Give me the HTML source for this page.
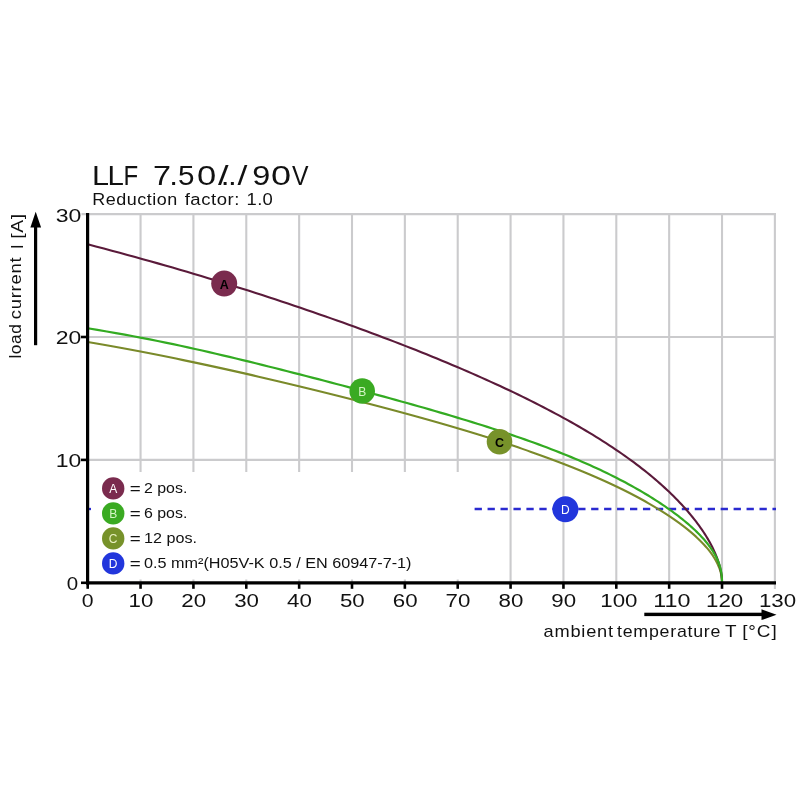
<!DOCTYPE html>
<html lang="en"><head><meta charset="utf-8"><title>LLF 7.50/../90V derating curve</title>
<style>
html,body{margin:0;padding:0;background:#fff;}
body{width:800px;height:800px;overflow:hidden;}
svg{display:block;}
text{font-family:"Liberation Sans",sans-serif;fill:#111;}
</style></head><body>
<svg width="800" height="800" viewBox="0 0 800 800">
<rect width="800" height="800" fill="#fff"/>
<g stroke="#cbcbcd" stroke-width="2.1" fill="none"><line x1="140.56" y1="213.5" x2="140.56" y2="582.0"/><line x1="193.42" y1="213.5" x2="193.42" y2="582.0"/><line x1="246.28" y1="213.5" x2="246.28" y2="582.0"/><line x1="299.14" y1="213.5" x2="299.14" y2="582.0"/><line x1="352.00" y1="213.5" x2="352.00" y2="582.0"/><line x1="404.86" y1="213.5" x2="404.86" y2="582.0"/><line x1="457.72" y1="213.5" x2="457.72" y2="582.0"/><line x1="510.58" y1="213.5" x2="510.58" y2="582.0"/><line x1="563.44" y1="213.5" x2="563.44" y2="582.0"/><line x1="616.30" y1="213.5" x2="616.30" y2="582.0"/><line x1="669.16" y1="213.5" x2="669.16" y2="582.0"/><line x1="722.02" y1="213.5" x2="722.02" y2="582.0"/><line x1="774.88" y1="213.5" x2="774.88" y2="589.0"/><line x1="88.0" y1="459.90" x2="776" y2="459.90"/><line x1="88.0" y1="337.00" x2="776" y2="337.00"/><line x1="81.5" y1="214.10" x2="776" y2="214.10"/></g>
<line x1="474.6" y1="509" x2="776" y2="509" stroke="#2a2ad0" stroke-width="2.3" stroke-dasharray="7.3 5.65"/><line x1="88" y1="509" x2="91" y2="509" stroke="#2a2ad0" stroke-width="2.3"/>
<rect x="92" y="472" width="380.5" height="107.5" fill="#fff"/>
<path d="M87.70 342.04 L96.47 343.54 L105.06 345.05 L113.48 346.55 L121.75 348.06 L129.86 349.56 L137.84 351.07 L145.69 352.57 L153.42 354.08 L161.03 355.58 L168.53 357.09 L175.93 358.59 L183.23 360.10 L190.44 361.60 L197.57 363.11 L204.62 364.61 L211.59 366.12 L218.50 367.62 L225.33 369.12 L232.10 370.63 L238.81 372.13 L245.46 373.64 L252.05 375.14 L258.59 376.65 L265.08 378.15 L271.53 379.66 L277.92 381.16 L284.27 382.67 L290.58 384.17 L296.84 385.68 L303.06 387.18 L309.24 388.69 L315.38 390.19 L321.48 391.70 L327.54 393.20 L333.56 394.71 L339.55 396.21 L345.49 397.71 L351.40 399.22 L357.26 400.72 L363.09 402.23 L368.88 403.73 L374.63 405.24 L380.34 406.74 L386.02 408.25 L391.65 409.75 L397.24 411.26 L402.79 412.76 L408.29 414.27 L413.76 415.77 L419.18 417.28 L424.56 418.78 L429.90 420.29 L435.20 421.79 L440.44 423.30 L445.65 424.80 L450.80 426.31 L455.92 427.81 L460.98 429.31 L466.00 430.82 L470.97 432.32 L475.89 433.83 L480.76 435.33 L485.59 436.84 L490.37 438.34 L495.09 439.85 L499.77 441.35 L504.39 442.86 L508.97 444.36 L513.49 445.87 L517.97 447.37 L522.39 448.88 L526.76 450.38 L531.08 451.89 L535.35 453.39 L539.57 454.90 L543.73 456.40 L547.85 457.91 L551.91 459.41 L555.92 460.91 L559.88 462.42 L563.79 463.92 L567.65 465.43 L571.45 466.93 L575.21 468.44 L578.91 469.94 L582.57 471.45 L586.17 472.95 L589.73 474.46 L593.23 475.96 L596.68 477.47 L600.09 478.97 L603.45 480.48 L606.76 481.98 L610.01 483.49 L613.23 484.99 L616.39 486.50 L619.51 488.00 L622.58 489.51 L625.60 491.01 L628.57 492.51 L631.50 494.02 L634.39 495.52 L637.23 497.03 L640.02 498.53 L642.77 500.04 L645.47 501.54 L648.13 503.05 L650.74 504.55 L653.31 506.06 L655.83 507.56 L658.31 509.07 L660.75 510.57 L663.14 512.08 L665.49 513.58 L667.80 515.09 L670.06 516.59 L672.28 518.10 L674.45 519.60 L676.58 521.10 L678.67 522.61 L680.71 524.11 L682.71 525.62 L684.66 527.12 L686.57 528.63 L688.43 530.13 L690.25 531.64 L692.02 533.14 L693.75 534.65 L695.43 536.15 L697.06 537.66 L698.65 539.16 L700.19 540.67 L701.68 542.17 L703.12 543.68 L704.52 545.18 L705.86 546.69 L707.15 548.19 L708.40 549.70 L709.59 551.20 L710.73 552.70 L711.82 554.21 L712.86 555.71 L713.84 557.22 L714.77 558.72 L715.64 560.23 L716.46 561.73 L717.23 563.24 L717.94 564.74 L718.59 566.25 L719.19 567.75 L719.73 569.26 L720.21 570.76 L720.64 572.27 L721.00 573.77 L721.32 575.28 L721.57 576.78 L721.77 578.29 L721.91 579.79 L721.99 581.30 L722.02 582.80" fill="none" stroke="#7a8a2a" stroke-width="2.1"/>
<path d="M87.70 244.33 L95.83 246.45 L103.87 248.56 L111.82 250.68 L119.69 252.80 L127.47 254.91 L135.18 257.03 L142.80 259.14 L150.35 261.26 L157.83 263.37 L165.24 265.49 L172.57 267.60 L179.83 269.72 L187.03 271.83 L194.17 273.95 L201.24 276.06 L208.24 278.18 L215.19 280.30 L222.08 282.41 L228.91 284.53 L235.68 286.64 L242.40 288.76 L249.06 290.87 L255.66 292.99 L262.22 295.10 L268.72 297.22 L275.17 299.33 L281.57 301.45 L287.92 303.57 L294.22 305.68 L300.48 307.80 L306.68 309.91 L312.84 312.03 L318.95 314.14 L325.01 316.26 L331.03 318.37 L337.00 320.49 L342.93 322.60 L348.82 324.72 L354.65 326.83 L360.45 328.95 L366.19 331.07 L371.90 333.18 L377.56 335.30 L383.18 337.41 L388.75 339.53 L394.28 341.64 L399.76 343.76 L405.20 345.87 L410.60 347.99 L415.95 350.10 L421.26 352.22 L426.53 354.34 L431.75 356.45 L436.92 358.57 L442.06 360.68 L447.14 362.80 L452.19 364.91 L457.19 367.03 L462.14 369.14 L467.05 371.26 L471.91 373.37 L476.73 375.49 L481.50 377.60 L486.23 379.72 L490.91 381.84 L495.54 383.95 L500.13 386.07 L504.67 388.18 L509.17 390.30 L513.62 392.41 L518.02 394.53 L522.37 396.64 L526.68 398.76 L530.94 400.87 L535.15 402.99 L539.32 405.11 L543.44 407.22 L547.51 409.34 L551.53 411.45 L555.50 413.57 L559.43 415.68 L563.30 417.80 L567.13 419.91 L570.91 422.03 L574.65 424.14 L578.33 426.26 L581.97 428.37 L585.55 430.49 L589.09 432.61 L592.58 434.72 L596.03 436.84 L599.42 438.95 L602.77 441.07 L606.07 443.18 L609.32 445.30 L612.52 447.41 L615.68 449.53 L618.79 451.64 L621.85 453.76 L624.86 455.88 L627.83 457.99 L630.75 460.11 L633.63 462.22 L636.45 464.34 L639.23 466.45 L641.97 468.57 L644.66 470.68 L647.30 472.80 L649.90 474.91 L652.45 477.03 L654.96 479.14 L657.42 481.26 L659.84 483.38 L662.22 485.49 L664.55 487.61 L666.83 489.72 L669.07 491.84 L671.27 493.95 L673.43 496.07 L675.54 498.18 L677.61 500.30 L679.63 502.41 L681.62 504.53 L683.56 506.65 L685.46 508.76 L687.31 510.88 L689.12 512.99 L690.89 515.11 L692.62 517.22 L694.30 519.34 L695.94 521.45 L697.54 523.57 L699.09 525.68 L700.60 527.80 L702.07 529.91 L703.49 532.03 L704.87 534.15 L706.20 536.26 L707.48 538.38 L708.72 540.49 L709.91 542.61 L711.06 544.72 L712.15 546.84 L713.20 548.95 L714.19 551.07 L715.13 553.18 L716.02 555.30 L716.86 557.42 L717.64 559.53 L718.36 561.65 L719.02 563.76 L719.63 565.88 L720.17 567.99 L720.64 570.11 L721.05 572.22 L721.39 574.34 L721.66 576.45 L721.86 578.57 L721.98 580.68 L722.02 582.80" fill="none" stroke="#5a1a3a" stroke-width="2.1"/>
<path d="M87.70 328.27 L97.41 329.86 L106.80 331.46 L115.90 333.05 L124.73 334.64 L133.30 336.23 L141.65 337.82 L149.78 339.41 L157.72 341.00 L165.48 342.59 L173.08 344.18 L180.53 345.77 L187.84 347.36 L195.02 348.95 L202.10 350.55 L209.07 352.14 L215.94 353.73 L222.73 355.32 L229.44 356.91 L236.09 358.50 L242.67 360.09 L249.19 361.68 L255.66 363.27 L262.08 364.86 L268.46 366.45 L274.80 368.04 L281.10 369.63 L287.37 371.23 L293.61 372.82 L299.81 374.41 L305.99 376.00 L312.14 377.59 L318.27 379.18 L324.37 380.77 L330.45 382.36 L336.50 383.95 L342.52 385.54 L348.52 387.13 L354.50 388.72 L360.45 390.31 L366.37 391.91 L372.27 393.50 L378.13 395.09 L383.97 396.68 L389.77 398.27 L395.54 399.86 L401.28 401.45 L406.98 403.04 L412.64 404.63 L418.27 406.22 L423.86 407.81 L429.41 409.40 L434.91 411.00 L440.37 412.59 L445.78 414.18 L451.15 415.77 L456.47 417.36 L461.74 418.95 L466.96 420.54 L472.13 422.13 L477.24 423.72 L482.31 425.31 L487.31 426.90 L492.26 428.49 L497.16 430.08 L501.99 431.68 L506.77 433.27 L511.49 434.86 L516.15 436.45 L520.75 438.04 L525.29 439.63 L529.77 441.22 L534.19 442.81 L538.55 444.40 L542.85 445.99 L547.08 447.58 L551.26 449.17 L555.37 450.76 L559.43 452.36 L563.42 453.95 L567.35 455.54 L571.22 457.13 L575.04 458.72 L578.79 460.31 L582.49 461.90 L586.13 463.49 L589.71 465.08 L593.23 466.67 L596.70 468.26 L600.12 469.85 L603.48 471.44 L606.78 473.04 L610.03 474.63 L613.23 476.22 L616.38 477.81 L619.48 479.40 L622.53 480.99 L625.53 482.58 L628.48 484.17 L631.38 485.76 L634.24 487.35 L637.05 488.94 L639.81 490.53 L642.53 492.13 L645.20 493.72 L647.83 495.31 L650.42 496.90 L652.96 498.49 L655.47 500.08 L657.93 501.67 L660.34 503.26 L662.72 504.85 L665.06 506.44 L667.35 508.03 L669.60 509.62 L671.82 511.21 L673.99 512.81 L676.12 514.40 L678.21 515.99 L680.26 517.58 L682.26 519.17 L684.22 520.76 L686.15 522.35 L688.02 523.94 L689.86 525.53 L691.65 527.12 L693.39 528.71 L695.10 530.30 L696.75 531.89 L698.36 533.49 L699.92 535.08 L701.43 536.67 L702.89 538.26 L704.30 539.85 L705.67 541.44 L706.98 543.03 L708.23 544.62 L709.44 546.21 L710.59 547.80 L711.69 549.39 L712.73 550.98 L713.71 552.58 L714.64 554.17 L715.51 555.76 L716.33 557.35 L717.08 558.94 L717.78 560.53 L718.42 562.12 L719.01 563.71 L719.54 565.30 L720.01 566.89 L720.43 568.48 L720.80 570.07 L721.11 571.66 L721.37 573.26 L721.58 574.85 L721.75 576.44 L721.87 578.03 L721.96 579.62 L722.01 581.21 L722.02 582.80" fill="none" stroke="#33ab22" stroke-width="2.2"/>
<g stroke="#000" stroke-width="3.2" fill="none"><line x1="87.6" y1="213" x2="87.6" y2="584.4"/><line x1="86" y1="582.8" x2="776" y2="582.8"/></g>
<g stroke="#000" stroke-width="2.6"><line x1="87.70" y1="582" x2="87.70" y2="588.8"/><line x1="140.56" y1="582" x2="140.56" y2="588.8"/><line x1="193.42" y1="582" x2="193.42" y2="588.8"/><line x1="246.28" y1="582" x2="246.28" y2="588.8"/><line x1="299.14" y1="582" x2="299.14" y2="588.8"/><line x1="352.00" y1="582" x2="352.00" y2="588.8"/><line x1="404.86" y1="582" x2="404.86" y2="588.8"/><line x1="457.72" y1="582" x2="457.72" y2="588.8"/><line x1="510.58" y1="582" x2="510.58" y2="588.8"/><line x1="563.44" y1="582" x2="563.44" y2="588.8"/><line x1="616.30" y1="582" x2="616.30" y2="588.8"/><line x1="669.16" y1="582" x2="669.16" y2="588.8"/><line x1="722.02" y1="582" x2="722.02" y2="588.8"/><line x1="81" y1="582.80" x2="87" y2="582.80"/><line x1="81" y1="459.90" x2="87" y2="459.90"/><line x1="81" y1="337.00" x2="87" y2="337.00"/></g>
<circle cx="224.2" cy="283.6" r="13.0" fill="#7a2b4e"/><text x="224.2" y="288.7" font-size="12.5" font-weight="bold" text-anchor="middle" style="fill:#000">A</text>
<circle cx="362.2" cy="391.0" r="12.8" fill="#3aaa22"/><text x="362.2" y="395.9" font-size="12" text-anchor="middle" style="fill:#d4f5c4">B</text>
<circle cx="499.5" cy="441.8" r="12.8" fill="#77922a"/><text x="499.5" y="446.9" font-size="12.5" font-weight="bold" text-anchor="middle" style="fill:#000">C</text>
<circle cx="565.4" cy="509.3" r="13.0" fill="#2236dc"/><text x="565.4" y="514.2" font-size="12" text-anchor="middle" style="fill:#fff">D</text>
<circle cx="113.2" cy="488.4" r="11.2" fill="#7a2b4e"/><text x="113.2" y="493.3" font-size="12" text-anchor="middle" style="fill:#fff">A</text>
<text font-size="14"><tspan x="129.7" y="493.7" textLength="11" lengthAdjust="spacingAndGlyphs">=</tspan> <tspan x="144.0" y="492.5" textLength="43.3" lengthAdjust="spacingAndGlyphs">2 pos.</tspan></text>
<circle cx="113.2" cy="513.4" r="11.2" fill="#3aaa22"/><text x="113.2" y="518.3" font-size="12" text-anchor="middle" style="fill:#d4f5c4">B</text>
<text font-size="14"><tspan x="129.7" y="518.7" textLength="11" lengthAdjust="spacingAndGlyphs">=</tspan> <tspan x="144.0" y="517.5" textLength="43.3" lengthAdjust="spacingAndGlyphs">6 pos.</tspan></text>
<circle cx="113.2" cy="538.4" r="11.2" fill="#77922a"/><text x="113.2" y="543.3" font-size="12" text-anchor="middle" style="fill:#e8f0c0">C</text>
<text font-size="14"><tspan x="129.7" y="543.7" textLength="11" lengthAdjust="spacingAndGlyphs">=</tspan> <tspan x="144.0" y="542.5" textLength="53" lengthAdjust="spacingAndGlyphs">12 pos.</tspan></text>
<circle cx="113.2" cy="563.4" r="11.2" fill="#2236dc"/><text x="113.2" y="568.3" font-size="12" text-anchor="middle" style="fill:#fff">D</text>
<text font-size="14"><tspan x="129.7" y="568.7" textLength="11" lengthAdjust="spacingAndGlyphs">=</tspan> <tspan x="144.0" y="567.5" textLength="267.5" lengthAdjust="spacingAndGlyphs">0.5 mm²(H05V-K 0.5 / EN 60947-7-1)</tspan></text>
<text y="184.8" font-size="27"><tspan x="91.99" textLength="17.03" lengthAdjust="spacingAndGlyphs">L</tspan><tspan x="107.58" textLength="16.40" lengthAdjust="spacingAndGlyphs">L</tspan><tspan x="123.53" textLength="14.68" lengthAdjust="spacingAndGlyphs">F</tspan> <tspan x="153.14" textLength="17.98" lengthAdjust="spacingAndGlyphs">7</tspan><tspan x="169.32" textLength="8.75" lengthAdjust="spacingAndGlyphs">.</tspan><tspan x="178.06" textLength="16.48" lengthAdjust="spacingAndGlyphs">5</tspan><tspan x="196.90" textLength="19.20" lengthAdjust="spacingAndGlyphs">0</tspan><tspan x="218.00" textLength="10.60" lengthAdjust="spacingAndGlyphs">/</tspan><tspan x="220.87" textLength="8.75" lengthAdjust="spacingAndGlyphs">.</tspan><tspan x="227.92" textLength="8.75" lengthAdjust="spacingAndGlyphs">.</tspan><tspan x="237.40" textLength="9.90" lengthAdjust="spacingAndGlyphs">/</tspan><tspan x="252.23" textLength="18.06" lengthAdjust="spacingAndGlyphs">9</tspan><tspan x="271.09" textLength="20.07" lengthAdjust="spacingAndGlyphs">0</tspan><tspan x="291.89" textLength="16.52" lengthAdjust="spacingAndGlyphs">V</tspan></text>
<text y="204.7" font-size="16.9"><tspan x="92.2" textLength="85.7" lengthAdjust="spacingAndGlyphs" style="letter-spacing:0.5px">Reduction</tspan> <tspan x="184.7" textLength="55.2" lengthAdjust="spacingAndGlyphs" style="letter-spacing:0.5px">factor:</tspan> <tspan x="246.6" textLength="26.6" lengthAdjust="spacingAndGlyphs" style="letter-spacing:0.3px">1.0</tspan></text>
<text x="81.8" y="606.8" font-size="17.6" textLength="11.8" lengthAdjust="spacingAndGlyphs">0</text>
<text x="128.5" y="606.8" font-size="17.6" textLength="24.8" lengthAdjust="spacingAndGlyphs">10</text>
<text x="181.3" y="606.8" font-size="17.6" textLength="24.8" lengthAdjust="spacingAndGlyphs">20</text>
<text x="234.2" y="606.8" font-size="17.6" textLength="24.8" lengthAdjust="spacingAndGlyphs">30</text>
<text x="287.0" y="606.8" font-size="17.6" textLength="24.8" lengthAdjust="spacingAndGlyphs">40</text>
<text x="339.9" y="606.8" font-size="17.6" textLength="24.8" lengthAdjust="spacingAndGlyphs">50</text>
<text x="392.8" y="606.8" font-size="17.6" textLength="24.8" lengthAdjust="spacingAndGlyphs">60</text>
<text x="445.6" y="606.8" font-size="17.6" textLength="24.8" lengthAdjust="spacingAndGlyphs">70</text>
<text x="498.5" y="606.8" font-size="17.6" textLength="24.8" lengthAdjust="spacingAndGlyphs">80</text>
<text x="551.3" y="606.8" font-size="17.6" textLength="24.8" lengthAdjust="spacingAndGlyphs">90</text>
<text x="600.3" y="606.8" font-size="17.6" textLength="37.2" lengthAdjust="spacingAndGlyphs">100</text>
<text x="653.2" y="606.8" font-size="17.6" textLength="37.2" lengthAdjust="spacingAndGlyphs">110</text>
<text x="706.0" y="606.8" font-size="17.6" textLength="37.2" lengthAdjust="spacingAndGlyphs">120</text>
<text x="758.9" y="606.8" font-size="17.6" textLength="37.2" lengthAdjust="spacingAndGlyphs">130</text>
<text x="66.8" y="590.1" font-size="18.6" textLength="11.4" lengthAdjust="spacingAndGlyphs">0</text>
<text x="55.8" y="467.2" font-size="18.6" textLength="25.6" lengthAdjust="spacingAndGlyphs">10</text>
<text x="55.8" y="344.4" font-size="18.6" textLength="25.6" lengthAdjust="spacingAndGlyphs">20</text>
<text x="55.8" y="221.8" font-size="18.6" textLength="25.6" lengthAdjust="spacingAndGlyphs">30</text>
<text y="637.3" font-size="16.6"><tspan x="543.6" textLength="70.2" lengthAdjust="spacingAndGlyphs" style="letter-spacing:0.7px">ambient</tspan> <tspan x="617.0" textLength="104.2" lengthAdjust="spacingAndGlyphs" style="letter-spacing:0.7px">temperature</tspan> <tspan x="724.9" textLength="11.2" lengthAdjust="spacingAndGlyphs">T</tspan> <tspan x="742.2" textLength="35.4" lengthAdjust="spacingAndGlyphs" style="letter-spacing:0.8px">[°C]</tspan></text>
<text transform="rotate(-90)" font-size="16.6"><tspan x="-358.5" y="20.6" textLength="34.8" lengthAdjust="spacingAndGlyphs" style="letter-spacing:0.5px">load</tspan> <tspan x="-319.3" y="20.9" textLength="62.6" lengthAdjust="spacingAndGlyphs" style="letter-spacing:0.7px">current</tspan> <tspan x="-249.1" y="23.2" textLength="4.6" lengthAdjust="spacingAndGlyphs">I</tspan> <tspan x="-238.7" y="23.2" textLength="25.4" lengthAdjust="spacingAndGlyphs" style="letter-spacing:0.5px">[A]</tspan></text>
<g fill="#000" stroke="none"><rect x="34" y="225" width="3.2" height="120.2"/><polygon points="35.7,211.8 41.1,227.5 30.4,227.5"/><rect x="644.3" y="612.7" width="120" height="3.4"/><polygon points="776.5,614.7 761.5,609.3 761.5,620.1"/></g>
</svg>
</body></html>
